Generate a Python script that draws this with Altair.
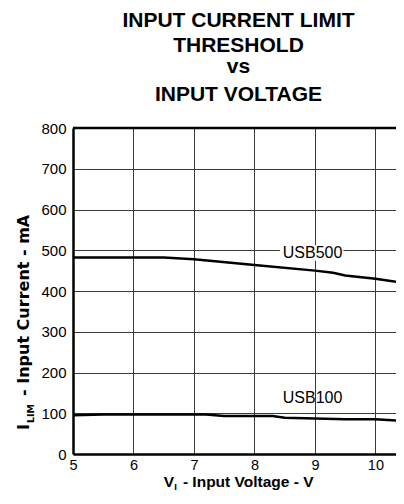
import altair as alt
import pandas as pd

# ---- data ----
usb500_v = [5.0, 6.5, 7.0, 8.0, 9.0, 9.3, 9.5, 10.0, 10.47]
usb500_i = [482, 482, 478, 464, 450, 445, 438, 430, 420]
usb100_v = [5.0, 5.5, 7.2, 7.5, 8.3, 8.5, 9.5, 10.0, 10.47]
usb100_i = [95, 97, 97, 93, 93, 89, 85, 85, 81]

label_text = ["USB500", "USB100"]
label_v = [8.96, 8.96]
label_i = [494, 137]

x_ticks = [5, 6, 7, 8, 9, 10]
y_ticks = [0, 100, 200, 300, 400, 500, 600, 700, 800]

FONT = "Liberation Sans"
YFONT = "DejaVu Sans"
W, H = 323, 326

lines_df = pd.DataFrame({
    "v": usb500_v + usb100_v,
    "i": usb500_i + usb100_i,
    "s": ["USB500"] * len(usb500_v) + ["USB100"] * len(usb100_v),
})
labels_df = pd.DataFrame({"t": label_text, "v": label_v, "i": label_i})
box_df = pd.DataFrame({"v1": [8.42], "v2": [9.47], "i1": [474], "i2": [512]})

xs = alt.Scale(domain=[5, 10.34], nice=False, zero=False)
ys = alt.Scale(domain=[0, 800], nice=False)

xax = alt.Axis(values=x_ticks, title=None, grid=True, ticks=False, labelPadding=4,
               labelFlush=False, format="d", labelFontSize=14.5)
yax = alt.Axis(values=y_ticks, title=None, grid=True, ticks=False, labelPadding=7)

box = alt.Chart(box_df).mark_rect(color="white").encode(
    x=alt.X("v1:Q", scale=xs, axis=xax), x2="v2:Q",
    y=alt.Y("i1:Q", scale=ys, axis=yax), y2="i2:Q")

lines = alt.Chart(lines_df).mark_line(color="black", strokeWidth=2.5, clip=True).encode(
    x=alt.X("v:Q", scale=xs), y=alt.Y("i:Q", scale=ys), detail="s:N")

labels = alt.Chart(labels_df).mark_text(font=FONT, fontSize=16, color="black",
                                        baseline="middle", align="center").encode(
    x=alt.X("v:Q", scale=xs), y=alt.Y("i:Q", scale=ys), text="t:N")

top_rule = alt.Chart(pd.DataFrame({"i": [800]})).mark_rule(
    color="black", strokeWidth=2.5).encode(y=alt.Y("i:Q", scale=ys))

# axis titles with subscripts (text pieces)
XB = 359     # baseline of x title below plot top
XJ = 101     # junction between V and subscript
xt1 = alt.Chart(pd.DataFrame({"t": ["V"]})).mark_text(
    font=FONT, fontSize=15.5, fontWeight="bold", align="right", baseline="alphabetic",
    color="black").encode(text="t:N", x=alt.value(XJ), y=alt.value(XB))
xt2 = alt.Chart(pd.DataFrame({"t": ["I"]})).mark_text(
    font=FONT, fontSize=9.5, fontWeight="bold", align="left", baseline="alphabetic",
    color="black").encode(text="t:N", x=alt.value(XJ + 0.3), y=alt.value(XB + 2.5))
xt3 = alt.Chart(pd.DataFrame({"t": ["- Input Voltage - V"]})).mark_text(
    font=FONT, fontSize=15.5, fontWeight="bold", align="left", baseline="alphabetic",
    color="black").encode(text="t:N", x=alt.value(XJ + 8.9), y=alt.value(XB))

YB = -44     # baseline x of y title (plot coords)
YS = 302     # start (bottom) of y title
yt1 = alt.Chart(pd.DataFrame({"t": ["I"]})).mark_text(
    font=YFONT, fontSize=16, fontWeight="bold", align="left", baseline="alphabetic",
    angle=270, color="black").encode(text="t:N", x=alt.value(YB), y=alt.value(YS))
yt2 = alt.Chart(pd.DataFrame({"t": ["LIM"]})).mark_text(
    font=YFONT, fontSize=9.5, fontWeight="bold", align="left", baseline="alphabetic",
    angle=270, color="black").encode(text="t:N", x=alt.value(YB + 4.5), y=alt.value(YS - 7))
yt3 = alt.Chart(pd.DataFrame({"t": ["- Input Current - mA"]})).mark_text(
    font=YFONT, fontSize=16, fontWeight="bold", align="left", baseline="alphabetic",
    angle=270, color="black").encode(text="t:N", x=alt.value(YB), y=alt.value(YS - 34))

chart = alt.layer(box, lines, labels, top_rule, xt1, xt2, xt3, yt1, yt2, yt3).properties(
    width=W, height=H,
    autosize=alt.AutoSizeParams(type="none"),
    padding={"left": 65, "top": 120, "right": 0, "bottom": 37},
    title=alt.TitleParams(
        text=["INPUT CURRENT LIMIT", "THRESHOLD"],
        subtitle=["vs", "INPUT VOLTAGE"],
        font=FONT, fontSize=21, fontWeight="bold", color="black", lineHeight=25,
        subtitleFont=FONT, subtitleFontSize=21, subtitleFontWeight="bold",
        subtitleColor="black", subtitleLineHeight=28, subtitlePadding=0,
        anchor="middle", offset=16, dx=4,
    ),
).configure_view(stroke=None).configure_axis(
    domainColor="black", domainWidth=2.5, gridColor="#3a3a3a", gridWidth=1,
    gridOpacity=1, labelFont=FONT, labelFontSize=15, labelColor="black",
)

chart.save("out.html", embed_options={"renderer": "svg", "actions": False})
